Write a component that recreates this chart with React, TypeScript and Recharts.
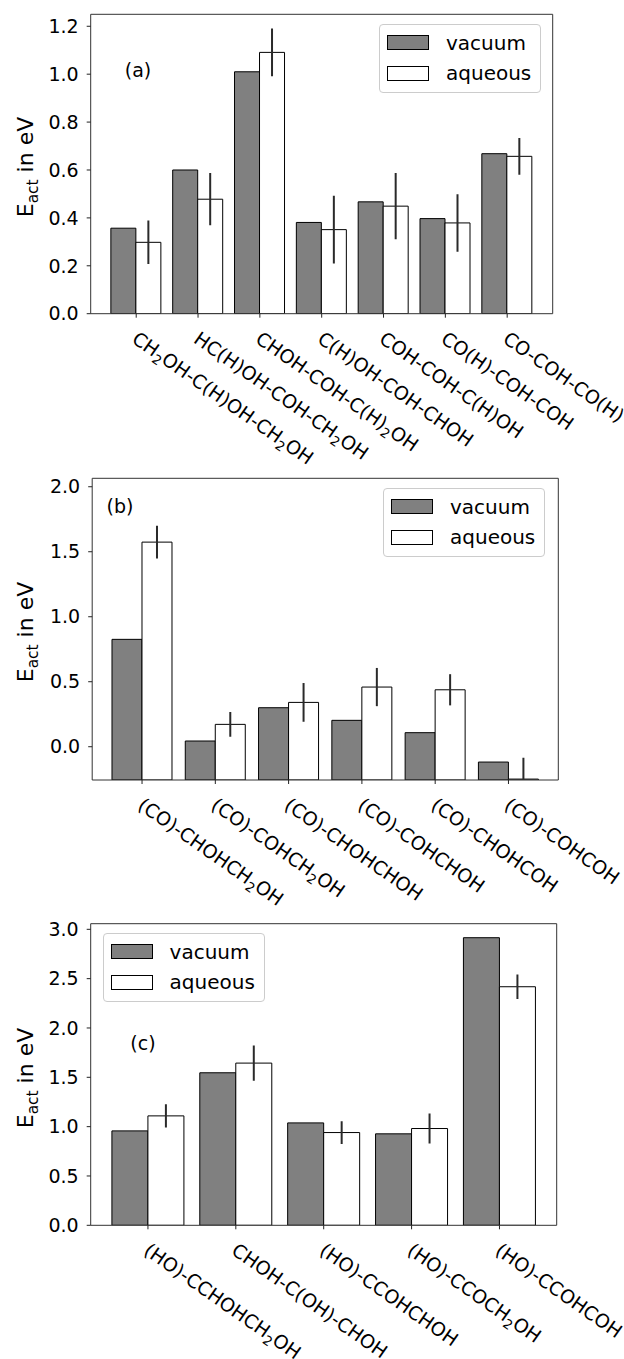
import React from 'react';
import { BarChart, Bar, XAxis, YAxis, ErrorBar, Legend, CartesianGrid } from 'recharts';

const FONT = '"DejaVu Sans", sans-serif';

// ---------- Panel (a) ----------
const labelsA = [
  'CH_2OH-C(H)OH-CH_2OH',
  'HC(H)OH-COH-CH_2OH',
  'CHOH-COH-C(H)_2OH',
  'C(H)OH-COH-CHOH',
  'COH-COH-C(H)OH',
  'CO(H)-COH-COH',
  'CO-COH-CO(H)',
];
const vacuumA = [0.357, 0.6, 1.01, 0.381, 0.467, 0.397, 0.668];
const aqueousA = [0.298, 0.478, 1.091, 0.351, 0.449, 0.379, 0.657];
const errA = [0.091, 0.109, 0.1, 0.141, 0.138, 0.12, 0.077];
const ticksA = [0, 0.2, 0.4, 0.6, 0.8, 1.0, 1.2];
const domainA: [number, number] = [0, 1.25];

// ---------- Panel (b) ----------
const labelsB = [
  '(CO)-CHOHCH_2OH',
  '(CO)-COHCH_2OH',
  '(CO)-CHOHCHOH',
  '(CO)-COHCHOH',
  '(CO)-CHOHCOH',
  '(CO)-COHCOH',
];
const vacuumB = [0.826, 0.044, 0.3, 0.203, 0.108, -0.118];
const aqueousB = [1.574, 0.172, 0.341, 0.459, 0.438, -0.249];
const errB = [0.126, 0.096, 0.149, 0.147, 0.12, 0.164];
const ticksB = [0, 0.5, 1.0, 1.5, 2.0];
const domainB: [number, number] = [-0.256, 2.065];

// ---------- Panel (c) ----------
const labelsC = [
  '(HO)-CCHOHCH_2OH',
  'CHOH-C(OH)-CHOH',
  '(HO)-CCOHCHOH',
  '(HO)-CCOCH_2OH',
  '(HO)-CCOHCOH',
];
const vacuumC = [0.957, 1.546, 1.038, 0.927, 2.915];
const aqueousC = [1.109, 1.644, 0.94, 0.981, 2.418];
const errC = [0.118, 0.179, 0.115, 0.152, 0.125];
const ticksC = [0, 0.5, 1.0, 1.5, 2.0, 2.5, 3.0];
const domainC: [number, number] = [0, 3.057];

const seriesNames = ['vacuum', 'aqueous'];

const TICK_FS = 19;
const SUB_SHIFT = 4.5;
const CHART_W = 624;
const YAXIS_W = 60;

function formulaSpans(s: string, size: number) {
  const segs: { t: string; sub: boolean }[] = [];
  let i = 0;
  let cur = '';
  while (i < s.length) {
    if (s[i] === '_' && i + 1 < s.length) {
      if (cur) segs.push({ t: cur, sub: false });
      cur = '';
      segs.push({ t: s[i + 1], sub: true });
      i += 2;
    } else {
      cur += s[i];
      i += 1;
    }
  }
  if (cur) segs.push({ t: cur, sub: false });
  const out: React.ReactNode[] = [];
  let shifted = false;
  segs.forEach((sg, k) => {
    if (sg.sub) {
      out.push(
        <tspan key={k} fontSize={size * 0.7} dy={shifted ? 0 : SUB_SHIFT}>
          {sg.t}
        </tspan>
      );
      shifted = true;
    } else {
      out.push(
        <tspan key={k} dy={shifted ? -SUB_SHIFT : 0}>
          {sg.t}
        </tspan>
      );
      shifted = false;
    }
  });
  return out;
}

const XTick = (props: any) => {
  const { x, y, payload } = props;
  return (
    <g transform={`translate(${x - 5.5},${y + 22}) rotate(35)`}>
      <text x={0} y={0} fontSize={TICK_FS} fontFamily={FONT} fill="#000" textAnchor="start">
        {formulaSpans(String(payload.value), TICK_FS)}
      </text>
    </g>
  );
};

const LegendBox = () => (
  <div
    style={{
      width: 162,
      height: 69,
      boxSizing: 'border-box',
      border: '1px solid #cccccc',
      borderRadius: 4,
      background: 'rgba(255,255,255,0.85)',
      position: 'relative',
      fontFamily: FONT,
      fontSize: 20,
      color: '#000',
    }}
  >
    {seriesNames.map((n, i) => (
      <React.Fragment key={n}>
        <div
          style={{
            position: 'absolute',
            left: 7,
            top: 10 + i * 30.5,
            width: 42,
            height: 15,
            boxSizing: 'border-box',
            border: '1.3px solid #000',
            background: i === 0 ? '#808080' : '#ffffff',
          }}
        />
        <div
          style={{
            position: 'absolute',
            left: 66,
            top: 17.5 + i * 30.5,
            transform: 'translateY(-50%)',
            lineHeight: '20px',
            whiteSpace: 'nowrap',
          }}
        >
          {n}
        </div>
      </React.Fragment>
    ))}
  </div>
);

type Margin = { top: number; right: number; bottom: number; left: number };

type PanelProps = {
  id: string;
  top: number;
  height: number;
  labels: string[];
  vac: number[];
  aq: number[];
  err: number[];
  ticks: number[];
  domain: [number, number];
  margin: Margin;
  pad: number;
  xh: number;
  legendPos: { left: number; top: number };
};

function plotRect(p: { height: number; margin: Margin; xh: number }) {
  const x = p.margin.left + YAXIS_W;
  const y = p.margin.top;
  const w = CHART_W - x - p.margin.right;
  const h = p.height - p.margin.top - p.margin.bottom - p.xh;
  return { x, y, w, h };
}

function Panel(p: PanelProps) {
  const data = p.labels.map((label, i) => ({
    label,
    vacuum: p.vac[i],
    aqueous: p.aq[i],
    err: p.err[i],
  }));
  const base = p.domain[0];
  const r = plotRect(p);
  return (
    <div className={`panel-${p.id}`} style={{ position: 'absolute', left: 0, top: p.top }}>
      <svg width={0} height={0} style={{ position: 'absolute', left: 0, top: 0 }}>
        <defs>
          <clipPath id={`clip-${p.id}`} clipPathUnits="userSpaceOnUse">
            <rect x={r.x} y={r.y} width={r.w} height={r.h} />
          </clipPath>
        </defs>
      </svg>
      <BarChart
        width={CHART_W}
        height={p.height}
        data={data}
        margin={p.margin}
        barCategoryGap="9%"
        barGap={0}
      >
        <CartesianGrid
          stroke="#333"
          strokeWidth={1}
          horizontalCoordinatesGenerator={(g: any) => [g.offset.top]}
          verticalCoordinatesGenerator={(g: any) => [g.offset.left + g.offset.width]}
        />
        <XAxis
          dataKey="label"
          interval={0}
          padding={{ left: p.pad, right: p.pad }}
          height={p.xh}
          tick={<XTick />}
          tickSize={4}
          tickLine={{ stroke: '#222' }}
          axisLine={{ stroke: '#333' }}
        />
        <YAxis
          type="number"
          domain={p.domain}
          ticks={p.ticks}
          allowDataOverflow
          width={YAXIS_W}
          tickSize={4}
          tickMargin={8}
          tickFormatter={(v: number) => v.toFixed(1)}
          tick={{ fontSize: TICK_FS, fill: '#000', fontFamily: FONT }}
          tickLine={{ stroke: '#222' }}
          axisLine={{ stroke: '#333' }}
        />
        <Bar
          dataKey={(d: any) => [base, d.vacuum]}
          name="vacuum"
          fill="#808080"
          stroke="#000"
          strokeWidth={1}
          isAnimationActive={false}
        />
        <Bar
          dataKey={(d: any) => [base, d.aqueous]}
          name="aqueous"
          fill="#ffffff"
          stroke="#000"
          strokeWidth={1}
          isAnimationActive={false}
        >
          <ErrorBar dataKey="err" width={0} stroke="#2a2a2a" strokeWidth={2} direction="y" />
        </Bar>
        <Legend
          layout="horizontal"
          verticalAlign="middle"
          align="center"
          content={() => <LegendBox />}
          wrapperStyle={{ left: p.legendPos.left, top: p.legendPos.top, width: 162, height: 69 }}
        />
      </BarChart>
    </div>
  );
}

const YLabel = ({ x, y }: { x: number; y: number }) => (
  <text
    x={x}
    y={y}
    transform={`rotate(-90, ${x}, ${y})`}
    textAnchor="middle"
    fontSize={22}
    fontFamily={FONT}
    fill="#000"
  >
    E
    <tspan dy={5} fontSize={15.4}>
      act
    </tspan>
    <tspan dy={-5}>{' in eV'}</tspan>
  </text>
);

const Tag = ({ x, y, t }: { x: number; y: number; t: string }) => (
  <text x={x} y={y} textAnchor="middle" fontSize={19} fontFamily={FONT} fill="#000">
    {t}
  </text>
);

const css = `
.panel-a .recharts-errorBar line { clip-path: url(#clip-a); }
.panel-b .recharts-errorBar line { clip-path: url(#clip-b); }
.panel-c .recharts-errorBar line { clip-path: url(#clip-c); }
.panel-a .recharts-errorBar, .panel-b .recharts-errorBar, .panel-c .recharts-errorBar { }
.panel-b .recharts-errorBars { clip-path: url(#clip-b); }
`;

export default function App() {
  return (
    <div
      style={{
        position: 'absolute',
        left: 0,
        top: 0,
        width: 624,
        height: 1359,
        background: '#fff',
        overflow: 'hidden',
      }}
    >
      <style>{css}</style>
      <Panel
        id="a"
        top={0}
        height={470}
        labels={labelsA}
        vac={vacuumA}
        aq={aqueousA}
        err={errA}
        ticks={ticksA}
        domain={domainA}
        margin={{ top: 14.3, right: 71.3, bottom: 6.3, left: 30.7 }}
        pad={14.6}
        xh={150}
        legendPos={{ left: 379, top: 24 }}
      />
      <Panel
        id="b"
        top={470}
        height={440}
        labels={labelsB}
        vac={vacuumB}
        aq={aqueousB}
        err={errB}
        ticks={ticksB}
        domain={domainB}
        margin={{ top: 8.3, right: 65.7, bottom: 10, left: 32.2 }}
        pad={13.2}
        xh={120}
        legendPos={{ left: 383, top: 18.3 }}
      />
      <Panel
        id="c"
        top={910}
        height={449}
        labels={labelsC}
        vac={vacuumC}
        aq={aqueousC}
        err={errC}
        ticks={ticksC}
        domain={domainC}
        margin={{ top: 13.7, right: 67.3, bottom: 8.7, left: 30.7 }}
        pad={13.3}
        xh={125}
        legendPos={{ left: 102.6, top: 23.3 }}
      />
      <svg
        width={624}
        height={1359}
        style={{ position: 'absolute', left: 0, top: 0, pointerEvents: 'none' }}
      >
        <YLabel x={33} y={167} />
        <YLabel x={33} y={632} />
        <YLabel x={33} y={1078} />
        <Tag x={138} y={77} t="(a)" />
        <Tag x={120} y={513} t="(b)" />
        <Tag x={143} y={1050} t="(c)" />
      </svg>
    </div>
  );
}
